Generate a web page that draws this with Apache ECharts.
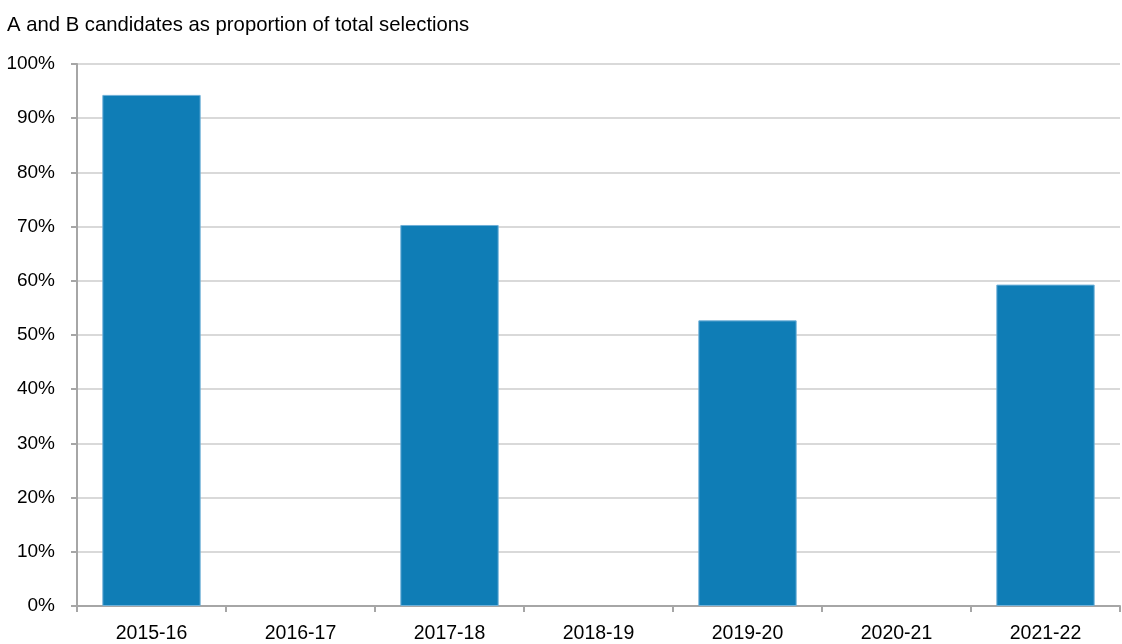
<!DOCTYPE html>
<html>
<head>
<meta charset="utf-8">
<script src="https://cdn.jsdelivr.net/npm/echarts@6/dist/echarts.min.js"></script>
<style>
  html, body { margin: 0; padding: 0; background: #fff; }
  #chart { width: 1122px; height: 644px; }
</style>
</head>
<body>
<div id="chart"></div>
<script>
// years on the x axis
var years = ['2015-16', '2016-17', '2017-18', '2018-19', '2019-20', '2020-21', '2021-22'];
// share of A and B candidates (%), null where no selection round was run
var shareAB = [94.3, null, 70.3, null, 52.7, null, 59.3];

var chart = echarts.init(document.getElementById('chart'));
chart.setOption({
  animation: false,
  textStyle: { fontFamily: 'Liberation Sans, Arial, sans-serif' },
  title: {
    text: 'A and B candidates as proportion of total selections',
    left: 2,
    top: 10,
    textStyle: { fontSize: 20.3, fontWeight: 'normal', color: '#000' }
  },
  grid: { left: 77, right: 2, top: 64, bottom: 37 },
  xAxis: {
    type: 'category',
    data: years,
    axisLine: { lineStyle: { color: '#a6a6a6', width: 2 } },
    axisTick: { show: true, length: 6, lineStyle: { color: '#a6a6a6', width: 2 } },
    axisLabel: { color: '#000', fontSize: 19.5, margin: 18 }
  },
  yAxis: {
    type: 'value',
    min: 0,
    max: 100,
    interval: 10,
    axisLine: { show: true, lineStyle: { color: '#a6a6a6', width: 2 } },
    axisTick: { show: true, length: 6, lineStyle: { color: '#a6a6a6', width: 2 } },
    axisLabel: { color: '#000', fontSize: 19, margin: 22, formatter: '{value}%' },
    splitLine: { lineStyle: { color: '#d9d9d9', width: 2 } }
  },
  series: [{
    type: 'bar',
    data: shareAB,
    barWidth: '66%',
    itemStyle: { color: '#0f7db6', borderColor: '#6fb0d8', borderWidth: 1 }
  }]
});
</script>
</body>
</html>
